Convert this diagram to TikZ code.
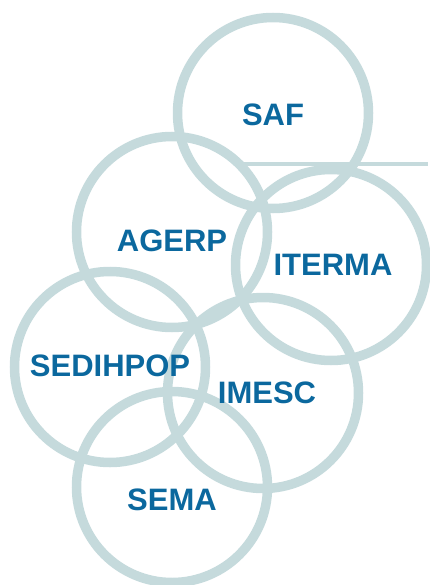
\documentclass[tikz,border=0pt]{standalone}
\usepackage{fontspec}
\setmainfont{Liberation Sans}
\definecolor{ringcol}{HTML}{C5DADC}
\definecolor{lblcol}{HTML}{0B689E}
\begin{document}
\begin{tikzpicture}[x=1pt,y=-1pt,
	ring/.style={draw=ringcol,line width=9.5pt},
	lbl/.style={font=\bfseries\fontsize{31}{31}\selectfont,text=lblcol,inner sep=0pt}]
	\useasboundingbox (0,0) rectangle (430,585);
	
	\coordinate (safc) at (273,113);
	\coordinate (agerpc) at (172,232);
	\coordinate (itermac) at (331,265);
	\coordinate (sedihpopc) at (110,367);
	\coordinate (imescc) at (263,393);
	\coordinate (semac) at (172,487);
	
	\coordinate (bar0) at (243,164);
	\coordinate (bar1) at (428,164);
	
	\draw[ringcol,line width=3.5pt] (bar0) -- (bar1);
	
	\draw[ring] (safc) circle (95.5pt);
	\draw[ring] (agerpc) circle (95.5pt);
	\draw[ring] (itermac) circle (95.5pt);
	\draw[ring] (sedihpopc) circle (95.5pt);
	\draw[ring] (imescc) circle (95.5pt);
	\draw[ring] (semac) circle (95.5pt);
	
	\node[lbl] (saf) at (273,115) {SAF};
	\node[lbl] (agerp) at (172,241) {AGERP};
	\node[lbl] (iterma) at (333,265) {ITERMA};
	\node[lbl] (sedihpop) at (110,366) {SEDIHPOP};
	\node[lbl] (imesc) at (267,393) {IMESC};
	\node[lbl] (sema) at (172,500) {SEMA};
\end{tikzpicture}
\end{document}
